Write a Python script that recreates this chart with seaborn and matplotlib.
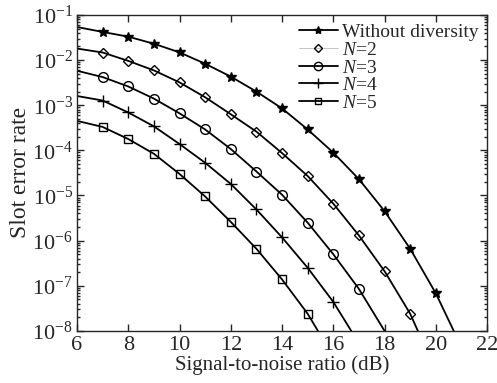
import numpy as np
import pandas as pd
import seaborn as sns
import matplotlib.pyplot as plt
from matplotlib.lines import Line2D
from matplotlib.ticker import LogLocator, FixedLocator

# SNR points (first = start of curve, last = where curve hits 1e-8)
snr_base = [6, 7, 8, 9, 10, 11, 12, 13, 14, 15, 16, 17, 18, 19, 20, 20.7]
ser_base = [5.4e-2, 4.2e-2, 3.3e-2, 2.3e-2, 1.48e-2, 8.3e-3, 4.3e-3, 2.0e-3,
            8.5e-4, 2.9e-4, 8.9e-5, 2.3e-5, 4.5e-6, 6.6e-7, 6.8e-8, 1e-8]

snr_n2 = [6, 7, 8, 9, 10, 11, 12, 13, 14, 15, 16, 17, 18, 19, 19.3]
ser_n2 = [1.8e-2, 1.47e-2, 9.6e-3, 5.9e-3, 3.2e-3, 1.5e-3, 6.3e-4, 2.6e-4,
          8.7e-5, 2.7e-5, 6.6e-6, 1.3e-6, 2.1e-7, 2.4e-8, 1e-8]

snr_n3 = [6, 7, 8, 9, 10, 11, 12, 13, 14, 15, 16, 17, 18.0]
ser_n3 = [5.8e-3, 4.2e-3, 2.6e-3, 1.4e-3, 6.6e-4, 2.9e-4, 1.07e-4, 3.4e-5,
          1.04e-5, 2.5e-6, 5.0e-7, 8.5e-8, 1e-8]

snr_n4 = [6, 7, 8, 9, 10, 11, 12, 13, 14, 15, 16, 16.7]
ser_n4 = [1.6e-3, 1.27e-3, 6.9e-4, 3.4e-4, 1.38e-4, 5.3e-5, 1.8e-5, 4.9e-6,
          1.18e-6, 2.5e-7, 4.4e-8, 1e-8]

snr_n5 = [6, 7, 8, 9, 10, 11, 12, 13, 14, 15, 15.4]
ser_n5 = [4.5e-4, 3.3e-4, 1.78e-4, 8.4e-5, 3.0e-5, 9.5e-6, 2.6e-6, 6.6e-7,
          1.38e-7, 2.4e-8, 1e-8]

labels = ["Without diversity", r"$N$=2", r"$N$=3", r"$N$=4", r"$N$=5"]
markers = ["*", "D", "o", "+", "s"]
msizes = [7, 5, 7, 8, 6]

series = [(snr_base, ser_base), (snr_n2, ser_n2), (snr_n3, ser_n3),
          (snr_n4, ser_n4), (snr_n5, ser_n5)]

sns.set_style("ticks")
plt.rcParams['font.family'] = ['Liberation Serif', 'DejaVu Serif']
plt.rcParams['mathtext.fontset'] = 'custom'
plt.rcParams['mathtext.rm'] = 'Liberation Serif'
plt.rcParams['mathtext.it'] = 'Liberation Serif:italic'

fig = plt.figure(figsize=(4.97, 3.83), dpi=100)
ax = fig.add_axes([0.155, 0.136, 0.825, 0.825])

for (x, y), lab, m, ms in zip(series, labels, markers, msizes):
    df = pd.DataFrame({"snr": x, "ser": y})
    sns.lineplot(data=df, x="snr", y="ser", ax=ax, color="black",
                 linewidth=1.3, marker=m, markersize=ms,
                 markerfacecolor="black" if m in ("*", "+") else "none",
                 markeredgecolor="black", markeredgewidth=1.0,
                 markevery=slice(1, -1), legend=False, sort=False)

ax.set_yscale("log")
ax.set_xlim(6, 22)
ax.set_ylim(1e-8, 1e-1)
ax.set_xticks(range(6, 23, 2))
ax.yaxis.set_major_locator(FixedLocator([10.0 ** k for k in range(-8, 0)]))
ax.yaxis.set_minor_locator(LogLocator(base=10, subs=np.arange(2, 10), numticks=20))
ax.tick_params(which="both", direction="in", top=True, right=True,
               labelsize=16, width=1.0)
ax.tick_params(which="major", length=5)
ax.tick_params(which="minor", length=2.5)
ax.tick_params(axis="x", which="minor", top=False, bottom=False)
ax.tick_params(axis="x", pad=4)
ax.tick_params(axis="y", pad=3)
for s in ax.spines.values():
    s.set_linewidth(1.0)

ax.set_xlabel("Signal-to-noise ratio (dB)", fontsize=15, labelpad=0)
ax.set_ylabel("Slot error rate", fontsize=17, labelpad=1)

handles = []
for i, (lab, m, ms) in enumerate(zip(labels, markers, msizes)):
    lc = "#bbbbbb" if i == 1 else "black"
    lw = 0.6 if i == 1 else 1.3
    handles.append(Line2D([], [], color=lc, linewidth=lw, marker=m,
                          markersize=ms - 1,
                          markerfacecolor="black" if m in ("*", "+") else "none",
                          markeredgecolor="black", label=lab))
ax.legend(handles=handles, loc="upper right", frameon=False, fontsize=14,
          handlelength=2.0, handletextpad=0.2, labelspacing=0.0,
          borderaxespad=0.35, borderpad=0.1)

fig.savefig("out.png", dpi=100)
